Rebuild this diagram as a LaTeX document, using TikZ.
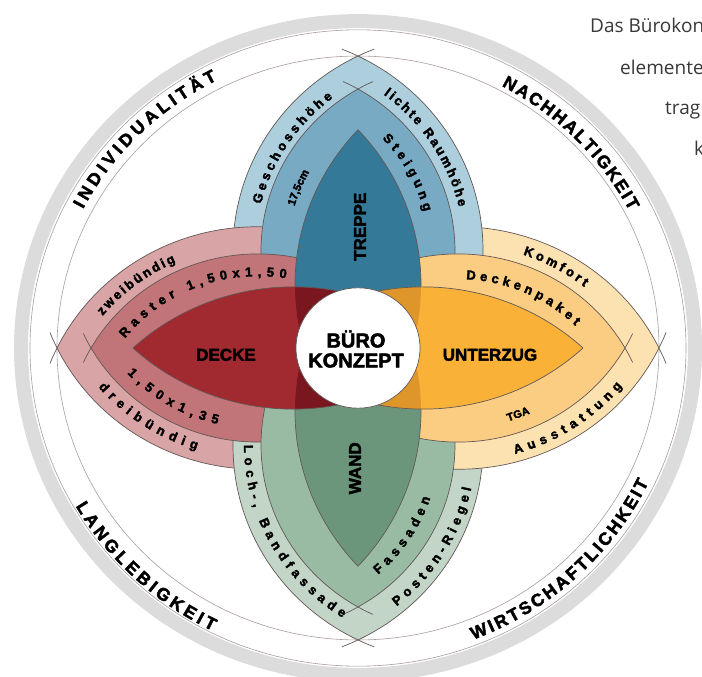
\documentclass[tikz,border=0pt]{standalone}
\usepackage{fontspec}
\setmainfont{Liberation Sans}
\newfontfamily\heavyfont[BoldFeatures={FakeBold=2.5}]{Liberation Sans}
\newfontfamily\pagefont{Open Sans}
\usetikzlibrary{decorations.text}

\definecolor{ringgray}{RGB}{220,220,220}
\definecolor{linegray}{RGB}{168,156,154}
\definecolor{edgegray}{RGB}{98,88,86}
\definecolor{blueA}{RGB}{172,206,221}
\definecolor{blueB}{RGB}{120,170,195}
\definecolor{blueC}{RGB}{52,121,152}
\definecolor{redA}{RGB}{217,164,166}
\definecolor{redB}{RGB}{193,117,120}
\definecolor{redC}{RGB}{160,42,48}
\definecolor{redD}{RGB}{122,22,30}
\definecolor{orangeA}{RGB}{253,226,177}
\definecolor{orangeB}{RGB}{251,205,130}
\definecolor{orangeC}{RGB}{249,177,55}
\definecolor{orangeD}{RGB}{222,150,42}
\definecolor{greenA}{RGB}{194,213,199}
\definecolor{greenB}{RGB}{153,187,164}
\definecolor{greenC}{RGB}{108,150,123}

\newcommand\ringfont{\heavyfont\fontsize{17.5}{17.5}\selectfont\bfseries}
\newcommand\bandfont{\heavyfont\fontsize{13}{13}\selectfont\bfseries}
\newcommand\smallbandfont{\heavyfont\fontsize{11}{11}\selectfont\bfseries}
\newcommand\labelfont{\heavyfont\fontsize{17}{17}\selectfont\bfseries}

% one arc of a petal layer: L = tip, a = tip to widest point, h = half width
\newcommand\lensprep[3]{%
  \pgfmathsetmacro\lr{0.5*(#2*(#2/#3)+#3)}%
  \pgfmathsetmacro\lpa{atan2(\lr-#3,#2)}%
  \pgfmathsetmacro\lpb{180-acos((#1-#2)/\lr)}%
  \pgfmathsetmacro\ly{\lr*sin(\lpb)+#3-\lr}}
\newcommand\lensfill[6]{%
  \lensprep{#2}{#3}{#4}%
  \fill[#5,rotate=#1,yscale=#6] (#2-#3,#4-\lr) ++(\lpa:\lr)
    arc[start angle=\lpa,end angle=\lpb,radius=\lr] -- (0,0) -- cycle;}
\newcommand\lensedge[6]{%
  \lensprep{#2}{#3}{#4}%
  \draw[edge,rotate=#1,yscale=#5] (#2-#3,#4-\lr) ++(\lpa-#6:\lr)
    arc[start angle=\lpa-#6,end angle=\lpb,radius=\lr];}
\newcommand\lensfull[5]{%
  \lensprep{#2}{#3}{#4}%
  \path[#5,rotate=#1] (#2-#3,#4-\lr) ++(\lpa:\lr)
    arc[start angle=\lpa,end angle=\lpb,radius=\lr] -- ++(0,-2*\ly)
    arc[start angle=-\lpb,end angle=-\lpa,radius=\lr] -- cycle;}

\begin{document}
\begin{tikzpicture}[x=1pt,y=1pt,
    edge/.style={draw=edgegray,line width=0.7pt},
    thinring/.style={draw=linegray,line width=0.6pt},
    ringtext/.style={decorate,decoration={text along path,text align={fit to path},text={|\ringfont|#1}}},
    bandtext/.style={decorate,decoration={text along path,text align={fit to path},text={|\bandfont|#1}}},
    tighttext/.style={decorate,decoration={text along path,text align=center,text={|\smallbandfont|#1}}},
    petal label/.style={font=\labelfont,inner sep=0pt}]
\useasboundingbox (-358,-329) rectangle (344,348);

\begin{scope}[yscale=0.97]
  % frame
  \draw[ringgray,line width=14pt] (0,0) circle[radius=337];
  \draw[thinring] (0,0) circle[radius=328];
  \draw[thinring] (0,0) circle[radius=301];

  % outer layer (pinwheel)
  \foreach \r/\c in {90/blueA,0/orangeA,270/greenA,180/redA}{
    \lensfill{\r}{301}{200}{125}{\c}{1}
    \lensedge{\r}{301}{200}{125}{1}{4.5}}
  \foreach \r/\c in {90/blueA,0/orangeA,270/greenA,180/redA}{
    \lensfill{\r}{301}{200}{125}{\c}{-1}
    \lensedge{\r}{301}{200}{125}{-1}{4.5}}

  % middle layer
  \foreach \r/\c/\s in {90/blueB/1,90/blueB/-1,270/greenB/1,180/redB/1,
                        180/redB/-1,0/orangeB/1,0/orangeB/-1,270/greenB/-1}{
    \lensfill{\r}{267}{167}{97}{\c}{\s}
    \lensedge{\r}{267}{167}{97}{\s}{5}}

  % inner layer
  \foreach \r/\c/\s in {90/blueC/1,90/blueC/-1,270/greenC/1,270/greenC/-1}{
    \lensfill{\r}{225}{160}{63}{\c}{\s}
    \lensedge{\r}{225}{160}{63}{\s}{0}}
  \foreach \r/\c/\s in {180/redC/1,180/redC/-1,0/orangeC/1,0/orangeC/-1}
    \lensfill{\r}{225}{160}{63}{\c}{\s};
  \begin{scope}
    \lensfull{90}{225}{160}{63}{clip}
    \lensfull{180}{225}{160}{63}{fill=redD}
    \lensfull{0}{225}{160}{63}{fill=orangeD}
  \end{scope}
  \begin{scope}
    \lensfull{270}{225}{160}{63}{clip}
    \lensfull{180}{225}{160}{63}{fill=redD}
    \lensfull{0}{225}{160}{63}{fill=orangeD}
  \end{scope}
  \foreach \r/\s in {180/1,180/-1,0/1,0/-1}
    \lensedge{\r}{225}{160}{63}{\s}{0};

  % centre
  \draw[edge,fill=white] (0,0) circle[radius=62];
  \node[font=\heavyfont\fontsize{20}{20}\selectfont\bfseries,align=center] (buero) at (-2,-1) {BÜRO\\KONZEPT};

  % petal labels
  \node[petal label,rotate=90] (treppe) at (2,125) {TREPPE};
  \node[petal label,rotate=90] (wand) at (-3,-124) {WAND};
  \node[petal label] (decke) at (-132,-7) {DECKE};
  \node[petal label] (unterzug) at (132,-7) {UNTERZUG};
  \node[font=\smallbandfont,rotate=20,inner sep=0pt] (tga) at (160,-68) {TGA};

  % band texts, Unterzug
  \path[bandtext={Komfort}] (100,-96) ++(71.3:203) arc[start angle=71.3,end angle=51.5,radius=203];
  \path[bandtext={Deckenpaket}] (100,-96) ++(87.2:167) arc[start angle=87.2,end angle=45.3,radius=167];
  \path[bandtext={Ausstattung}] (100,96) ++(-74.5:213) arc[start angle=-74.5,end angle=-39.5,radius=213];

  % band texts, Decke
  \begin{scope}[rotate=180]
    \path[bandtext={zweibündig}] (100,96) ++(-39.7:202) arc[start angle=-39.7,end angle=-66,radius=202];
    \path[bandtext={Raster 1,50x1,50}] (100,96) ++(-38.5:170) arc[start angle=-38.5,end angle=-99.5,radius=170];
    \path[bandtext={1,50x1,35}] (100,-96) ++(43:179) arc[start angle=43,end angle=77,radius=179];
    \path[bandtext={dreibündig}] (100,-96) ++(40.5:210) arc[start angle=40.5,end angle=73,radius=210];
  \end{scope}

  % band texts, Treppe
  \begin{scope}[rotate=90]
    \path[bandtext={Geschosshöhe}] (100,-96) ++(76:199) arc[start angle=76,end angle=37.5,radius=199];
    \path[tighttext={17,5cm}] (100,-96) ++(76:166) arc[start angle=76,end angle=58.5,radius=166];
    \path[bandtext={lichte Raumhöhe}] (100,96) ++(-37:202) arc[start angle=-37,end angle=-77,radius=202];
    \path[bandtext={Steigung}] (100,96) ++(-46:167) arc[start angle=-46,end angle=-76,radius=167];
  \end{scope}

  % band texts, Wand
  \begin{scope}[rotate=270]
    \path[bandtext={Loch-, Bandfassade}] (100,96) ++(-90:210) arc[start angle=-90,end angle=-32,radius=210];
    \path[bandtext={Fassaden}] (100,-96) ++(41:177) arc[start angle=41,end angle=72,radius=177];
    \path[bandtext={Posten-Riegel}] (100,-96) ++(39:214) arc[start angle=39,end angle=78,radius=214];
  \end{scope}

  % ring texts
  \path[ringtext={INDIVIDUALITÄT}] (152.5:310) arc[start angle=152.5,end angle=117,radius=310];
  \path[ringtext={NACHHALTIGKEIT}] (62:306) arc[start angle=62,end angle=27.5,radius=306];
  \path[ringtext={LANGLEBIGKEIT}] (210:326) arc[start angle=210,end angle=243.5,radius=326];
  \path[ringtext={WIRTSCHAFTLICHKEIT}] (-69:322) arc[start angle=-69,end angle=-25.5,radius=322];
\end{scope}

% running text of the page, cut at the edge
\begin{scope}[every node/.style={anchor=base west,inner sep=0pt,text=black!78,
    font=\pagefont\fontsize{19}{19}\selectfont}]
  \node (line1) at (232,315) {Das Bürokon};
  \node (line2) at (262,273) {elemente};
  \node (line3) at (307,233) {trag};
  \node (line4) at (336,192) {k};
\end{scope}
\end{tikzpicture}
\end{document}
